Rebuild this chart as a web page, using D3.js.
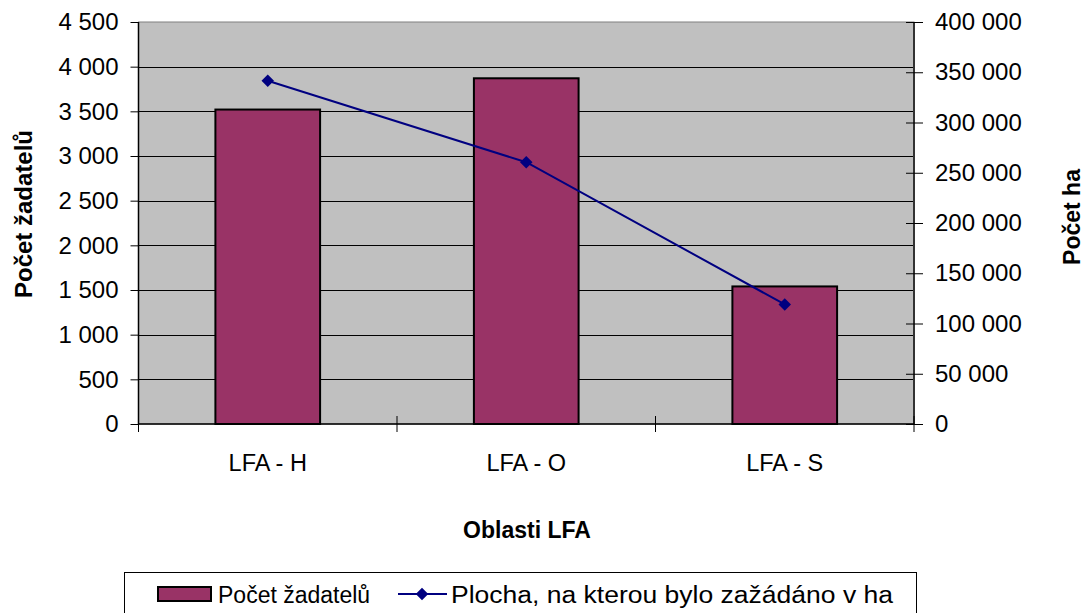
<!DOCTYPE html>
<html>
<head>
<meta charset="utf-8">
<script src="https://cdn.jsdelivr.net/npm/d3@7"></script>
<style>
  body { margin: 0; background: #fff; }
  svg { display: block; font-family: "Liberation Sans", Arial, sans-serif; }
</style>
</head>
<body>
<svg width="1084" height="613"></svg>
<script>
// data
const categories = ["LFA - H", "LFA - O", "LFA - S"];
const applicants = [3520, 3870, 1540];        // Počet žadatelů (bars, left axis)
const areaHa = [341500, 260500, 119000];      // Plocha v ha (line, right axis)
const leftTicks = [0, 500, 1000, 1500, 2000, 2500, 3000, 3500, 4000, 4500];
const rightTicks = [0, 50000, 100000, 150000, 200000, 250000, 300000, 350000, 400000];

const svg = d3.select("svg");
const plot = { left: 138.5, right: 914, top: 22, bottom: 424 };
const fontFam = "Liberation Sans, Arial, sans-serif";

const locale = d3.formatLocale({ decimal: ",", thousands: "\u00a0", grouping: [3], currency: ["", " Kč"] });
const fmt = locale.format(",d");

const x = d3.scaleBand().domain(categories).range([plot.left, plot.right]);
const yL = d3.scaleLinear().domain([0, 4500]).range([plot.bottom, plot.top]);
const yR = d3.scaleLinear().domain([0, 400000]).range([plot.bottom, plot.top]);

// plot area
svg.append("rect")
  .attr("x", plot.left).attr("y", plot.top)
  .attr("width", plot.right - plot.left).attr("height", plot.bottom - plot.top)
  .attr("fill", "#c0c0c0").attr("stroke", "#808080").attr("stroke-width", 1);

// gridlines
svg.append("g")
  .selectAll("line")
  .data(leftTicks.filter(d => d > 0 && d < 4500))
  .join("line")
    .attr("x1", plot.left).attr("x2", plot.right)
    .attr("y1", d => Math.round(yL(d)) + 0.5).attr("y2", d => Math.round(yL(d)) + 0.5)
    .attr("stroke", "#000").attr("stroke-width", 1);

// bars
const barW = x.bandwidth() * 0.405;
svg.append("g")
  .selectAll("rect")
  .data(applicants)
  .join("rect")
    .attr("x", (d, i) => x(categories[i]) + x.bandwidth() / 2 - barW / 2)
    .attr("y", d => yL(d))
    .attr("width", barW)
    .attr("height", d => plot.bottom - yL(d))
    .attr("fill", "#993366")
    .attr("stroke", "#000").attr("stroke-width", 2);

// left axis
const axL = svg.append("g")
  .attr("transform", `translate(${plot.left},0)`)
  .call(d3.axisLeft(yL).tickValues(leftTicks).tickFormat(fmt).tickSize(8).tickPadding(12));
axL.select(".domain").attr("stroke", "#000").attr("stroke-width", 1.5).attr("d", `M0,${plot.top}V${plot.bottom}`);
axL.selectAll("text").attr("font-size", 24).attr("fill", "#000").attr("font-family", fontFam);

// right axis (ticks cross the line)
const axR = svg.append("g")
  .attr("transform", `translate(${plot.right},0)`)
  .call(d3.axisRight(yR).tickValues(rightTicks).tickFormat(fmt).tickSize(9).tickPadding(12));
axR.select(".domain").attr("stroke", "#333").attr("stroke-width", 2).attr("d", `M0,${plot.top}V${plot.bottom}`);
axR.selectAll(".tick line").attr("x1", -8);
axR.selectAll("text").attr("font-size", 24).attr("fill", "#000").attr("font-family", fontFam);

// bottom axis with crossing ticks between categories
const axB = svg.append("g").attr("transform", `translate(0,${plot.bottom})`);
axB.append("line")
  .attr("x1", plot.left).attr("x2", plot.right)
  .attr("stroke", "#000").attr("stroke-width", 1.5);
const bounds = categories.map(c => x(c)).concat([plot.right]);
axB.selectAll("line.tk")
  .data(bounds)
  .join("line").attr("class", "tk")
    .attr("x1", d => d).attr("x2", d => d)
    .attr("y1", -8).attr("y2", 8)
    .attr("stroke", "#000").attr("stroke-width", 1);
axB.selectAll("text")
  .data(categories)
  .join("text")
    .attr("x", d => x(d) + x.bandwidth() / 2)
    .attr("y", 47)
    .attr("text-anchor", "middle")
    .attr("font-size", 23.5)
    .text(d => d);

// line series
const line = d3.line()
  .x((d, i) => x(categories[i]) + x.bandwidth() / 2)
  .y(d => yR(d));
svg.append("path")
  .datum(areaHa)
  .attr("d", line)
  .attr("fill", "none")
  .attr("stroke", "#000080")
  .attr("stroke-width", 2);

const diamond = d3.symbol().type(d3.symbolDiamond2).size(100)();
svg.append("g")
  .selectAll("path")
  .data(areaHa)
  .join("path")
    .attr("d", diamond)
    .attr("transform", (d, i) => `translate(${x(categories[i]) + x.bandwidth() / 2},${yR(d)})`)
    .attr("fill", "#000080");

// axis titles
svg.append("text")
  .attr("x", 527).attr("y", 538)
  .attr("text-anchor", "middle").attr("font-size", 23).attr("font-weight", "bold")
  .text("Oblasti LFA");
svg.append("text")
  .attr("transform", "translate(32,214) rotate(-90)")
  .attr("text-anchor", "middle").attr("font-size", 24).attr("font-weight", "bold")
  .text("Počet žadatelů");
svg.append("text")
  .attr("transform", "translate(1080,217) rotate(-90)")
  .attr("text-anchor", "middle").attr("font-size", 23).attr("font-weight", "bold")
  .text("Počet ha");

// legend
const lg = svg.append("g");
lg.append("rect")
  .attr("x", 124.5).attr("y", 572.5).attr("width", 792).attr("height", 60)
  .attr("fill", "#fff").attr("stroke", "#000").attr("stroke-width", 1);
lg.append("rect")
  .attr("x", 158).attr("y", 587).attr("width", 53).attr("height", 14)
  .attr("fill", "#993366").attr("stroke", "#000").attr("stroke-width", 2);
lg.append("text")
  .attr("x", 218).attr("y", 603).attr("font-size", 23)
  .text("Počet žadatelů");
lg.append("line")
  .attr("x1", 398).attr("x2", 447).attr("y1", 594).attr("y2", 594)
  .attr("stroke", "#000080").attr("stroke-width", 2);
lg.append("path")
  .attr("d", diamond)
  .attr("transform", "translate(422,594)")
  .attr("fill", "#000080");
lg.append("text")
  .attr("x", 451).attr("y", 603).attr("font-size", 23)
  .attr("textLength", 442).attr("lengthAdjust", "spacingAndGlyphs")
  .text("Plocha, na kterou bylo zažádáno v ha");
</script>
</body>
</html>
